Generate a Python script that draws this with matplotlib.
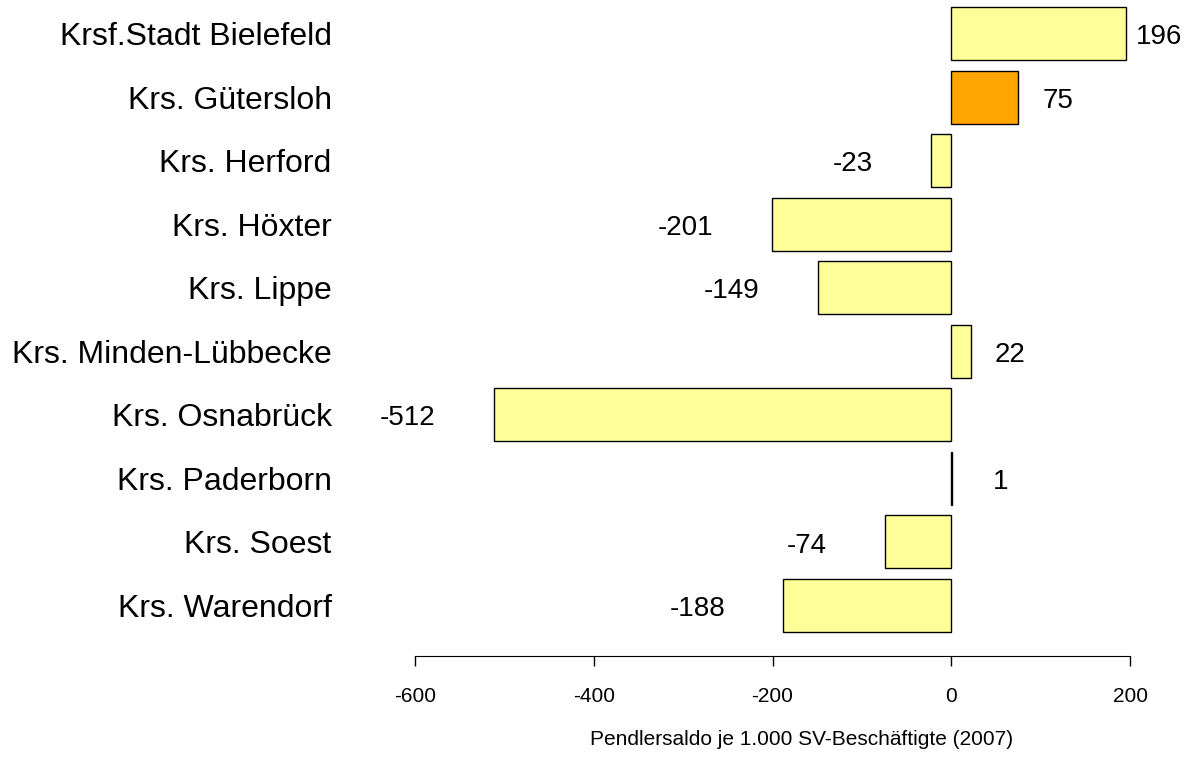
import matplotlib.pyplot as plt
import numpy as np

plt.rcParams['font.family'] = ['Liberation Sans', 'DejaVu Sans']

kreise = ['Krsf.Stadt Bielefeld', 'Krs. Gütersloh', 'Krs. Herford', 'Krs. Höxter',
          'Krs. Lippe', 'Krs. Minden-Lübbecke', 'Krs. Osnabrück', 'Krs. Paderborn',
          'Krs. Soest', 'Krs. Warendorf']
saldo = [196, 75, -23, -201, -149, 22, -512, 1, -74, -188]
farben = ['#FFFF99', '#FFA500'] + ['#FFFF99'] * 8
xticks = [-600, -400, -200, 0, 200]

fig = plt.figure(figsize=(11.91, 7.60), dpi=100)
ax = fig.add_axes([415 / 1191, 104 / 760, 715 / 1191, 656 / 760])

y = np.arange(len(kreise))
ax.barh(y, saldo, height=0.833, color=farben, edgecolor='black', linewidth=1)

# Werte neben die Balken schreiben
for i, v in enumerate(saldo):
    if v >= 0:
        ax.text(min(max(v + 27, 47), 207), i + 0.06, str(v), ha='left', va='center',
                fontsize=20, clip_on=False)
    else:
        ax.text(v - 65, i + 0.06, str(v), ha='right', va='center', fontsize=20, clip_on=False)

ax.set_xlim(-600, 200)
ax.set_ylim(9.8, -0.53)
ax.set_yticks(y)
ax.set_yticklabels(kreise, fontsize=23)
ax.tick_params(axis='y', length=0, pad=60)
ax.set_xticks(xticks)
ax.set_xticklabels([str(t) for t in xticks], fontsize=15)
ax.tick_params(axis='x', length=7.5, width=1, pad=15)
for s in ['top', 'right', 'left']:
    ax.spines[s].set_visible(False)
ax.spines['bottom'].set_bounds(-600, 200)
ax.set_xlabel('Pendlersaldo je 1.000 SV-Beschäftigte (2007)', fontsize=15, labelpad=17)
ax.xaxis.set_label_coords(0.54, -0.113)

plt.savefig('out.png', dpi=100)
